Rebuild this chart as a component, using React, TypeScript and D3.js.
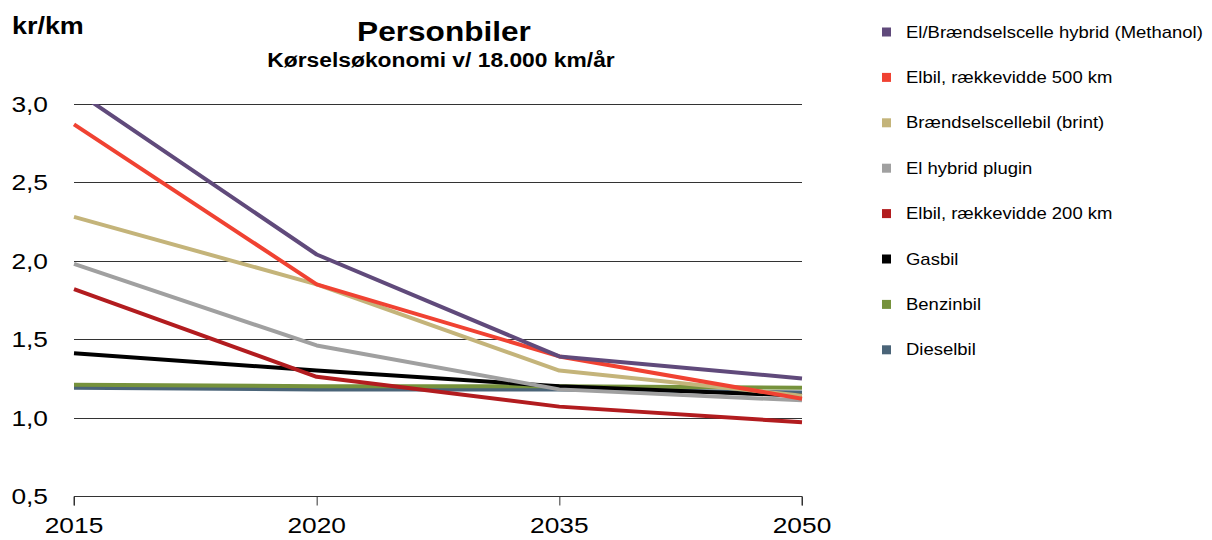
import React, { useEffect, useRef } from 'react'
import * as d3 from 'd3'

const years = ['2015', '2020', '2035', '2050']
const yTicks = [0.5, 1.0, 1.5, 2.0, 2.5, 3.0]

const seriesNames = [
  'El/Brændselscelle hybrid (Methanol)',
  'Elbil, rækkevidde 500 km',
  'Brændselscellebil (brint)',
  'El hybrid plugin',
  'Elbil, rækkevidde 200 km',
  'Gasbil',
  'Benzinbil',
  'Dieselbil',
]

const seriesColors = ['#604A7B', '#F04232', '#C4B47A', '#A0A0A0', '#B21C1F', '#000000', '#76923C', '#4A6478']

const methanolValues = [3.09, 2.04, 1.39, 1.25]
const elbil500Values = [2.87, 1.85, 1.39, 1.12]
const brintValues = [2.28, 1.85, 1.3, 1.14]
const pluginValues = [1.98, 1.46, 1.18, 1.11]
const elbil200Values = [1.82, 1.26, 1.07, 0.97]
const gasValues = [1.41, 1.3, 1.2, 1.14]
const benzinValues = [1.21, 1.2, 1.2, 1.19]
const dieselValues = [1.19, 1.18, 1.18, 1.16]

const seriesValues = [
  methanolValues,
  elbil500Values,
  brintValues,
  pluginValues,
  elbil200Values,
  gasValues,
  benzinValues,
  dieselValues,
]

const fmt = (v: number) => v.toFixed(1).replace('.', ',')

// the source chart uses a slightly wide Arial, so text is stretched a bit
const STRETCH = 1.17

export const LineChart: React.FC = () => {
  const svgRef = useRef<SVGSVGElement>(null)

  useEffect(() => {
    if (!svgRef.current) {
      return
    }
    const svg = d3.select(svgRef.current)
    svg.selectAll('*').remove()

    const font = 'Arial, "Liberation Sans", sans-serif'
    const left = 74
    const right = 802
    const top = 104
    const bottom = 496

    const x = d3.scalePoint().domain(years).range([left, right])
    const y = d3.scaleLinear().domain([0.5, 3.0]).range([bottom, top])

    const label = (
      parent: d3.Selection<any, any, any, any>,
      tx: number,
      ty: number,
      text: string,
      size: number,
      anchor = 'start',
      bold = false
    ) =>
      parent
        .append('text')
        .attr('transform', `translate(${tx},${ty}) scale(${STRETCH},1)`)
        .attr('text-anchor', anchor)
        .attr('font-family', font)
        .attr('font-weight', bold ? 'bold' : 'normal')
        .attr('font-size', `${size}px`)
        .attr('fill', '#000')
        .text(text)

    // Titles
    label(svg, 12, 34, 'kr/km', 23, 'start', true)
    label(svg, 444, 41, 'Personbiler', 27, 'middle', true)
    label(svg, 441, 67, 'Kørselsøkonomi v/ 18.000 km/år', 19.5, 'middle', true)

    // Gridlines
    svg
      .append('g')
      .selectAll('line')
      .data(yTicks.filter((t) => t > 0.5))
      .enter()
      .append('line')
      .attr('x1', left)
      .attr('x2', right)
      .attr('y1', (d) => Math.round(y(d)) + 0.5)
      .attr('y2', (d) => Math.round(y(d)) + 0.5)
      .attr('stroke', '#333')
      .attr('stroke-width', 1)

    // X axis
    const xAxis = svg
      .append('g')
      .attr('transform', `translate(0,${bottom + 0.5})`)
      .call(d3.axisBottom(x).tickSize(9).tickFormat(() => ''))
    xAxis.select('.domain').attr('stroke', '#333').attr('d', `M${left},9V0H${right}V9`)
    xAxis.selectAll('.tick line').attr('stroke', '#333')

    const xLabels = svg.append('g')
    years.forEach((yr) => label(xLabels, x(yr) || 0, 533, yr, 22.5, 'middle'))

    // Y labels
    const yLabels = svg.append('g')
    yTicks.forEach((t) => label(yLabels, 48, y(t) + 8, fmt(t), 22.5, 'end'))

    // Clip to plot area
    svg
      .append('defs')
      .append('clipPath')
      .attr('id', 'plot-clip')
      .append('rect')
      .attr('x', left - 10)
      .attr('y', top)
      .attr('width', right - left + 20)
      .attr('height', bottom - top)

    const line = d3
      .line<number>()
      .x((_d, i) => x(years[i]) || 0)
      .y((d) => y(d))

    const order = d3.range(seriesValues.length).reverse()
    svg
      .append('g')
      .attr('clip-path', 'url(#plot-clip)')
      .selectAll('path')
      .data(order)
      .enter()
      .append('path')
      .attr('d', (i) => line(seriesValues[i]))
      .attr('fill', 'none')
      .attr('stroke', (i) => seriesColors[i])
      .attr('stroke-width', 4)
      .attr('stroke-linejoin', 'round')

    // Legend
    const legend = svg.append('g')
    const rowY = (i: number) => 32 + i * 45.4
    legend
      .selectAll('rect')
      .data(seriesNames)
      .enter()
      .append('rect')
      .attr('x', 882)
      .attr('y', (_d, i) => rowY(i) - 4.5)
      .attr('width', 9)
      .attr('height', 9)
      .attr('fill', (_d, i) => seriesColors[i])
    seriesNames.forEach((name, i) => label(legend, 906, rowY(i) + 5.5, name, 15.8))
  }, [])

  return <svg ref={svgRef} width={1212} height={540} style={{ position: 'absolute', left: 0, top: 0, background: '#fff' }} />
}

export default function App() {
  return <LineChart />
}
